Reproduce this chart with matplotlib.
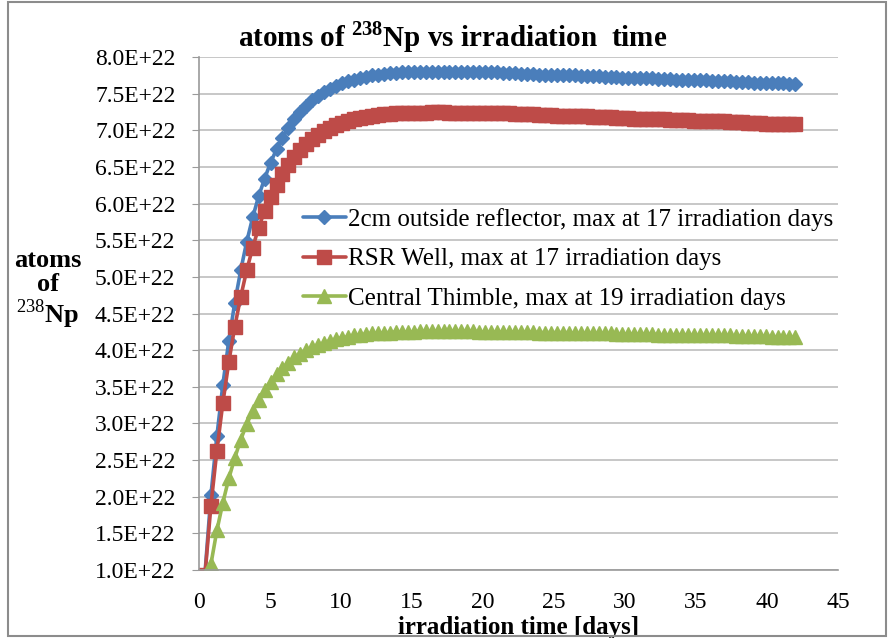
import numpy as np
import matplotlib
matplotlib.use("Agg")
import matplotlib.pyplot as plt
from matplotlib.ticker import FixedLocator, FuncFormatter
from matplotlib.patches import Rectangle

plt.rcParams['font.family'] = ['Liberation Serif', 'DejaVu Serif']
plt.rcParams['mathtext.fontset'] = 'custom'
plt.rcParams['mathtext.rm'] = 'Liberation Serif'
plt.rcParams['mathtext.bf'] = 'Liberation Serif:bold'

# irradiation time step (days) - 100 evenly spaced samples
time_step = 0.42
n_points = 100
days = np.arange(1, n_points + 1) * time_step

# atoms of 238Np, in units of 1E+22
outside_reflector = [
    0.95, 2.02, 2.83, 3.53, 4.13, 4.65, 5.09, 5.48, 5.81, 6.10,
    6.34, 6.56, 6.74, 6.90, 7.03, 7.15, 7.25, 7.33, 7.41, 7.47,
    7.52, 7.57, 7.61, 7.64, 7.67, 7.69, 7.72, 7.73, 7.75, 7.76,
    7.77, 7.78, 7.78, 7.79, 7.79, 7.80, 7.80, 7.80, 7.80, 7.80,
    7.80, 7.80, 7.80, 7.80, 7.80, 7.79, 7.79, 7.79, 7.79, 7.79,
    7.78, 7.78, 7.78, 7.77, 7.77, 7.77, 7.76, 7.76, 7.76, 7.76,
    7.75, 7.75, 7.75, 7.74, 7.74, 7.74, 7.74, 7.73, 7.73, 7.73,
    7.72, 7.72, 7.72, 7.71, 7.71, 7.71, 7.70, 7.70, 7.70, 7.69,
    7.69, 7.69, 7.68, 7.68, 7.68, 7.67, 7.67, 7.67, 7.67, 7.66,
    7.66, 7.66, 7.65, 7.65, 7.65, 7.64, 7.64, 7.64, 7.63, 7.63,
]
rsr_well = [
    0.93, 1.88, 2.63, 3.28, 3.84, 4.32, 4.73, 5.09, 5.40, 5.67,
    5.90, 6.09, 6.26, 6.41, 6.53, 6.64, 6.73, 6.81, 6.88, 6.94,
    6.99, 7.03, 7.07, 7.10, 7.13, 7.15, 7.17, 7.18, 7.20, 7.21,
    7.22, 7.22, 7.23, 7.23, 7.24, 7.24, 7.24, 7.24, 7.25, 7.25,
    7.25, 7.24, 7.24, 7.24, 7.24, 7.24, 7.24, 7.24, 7.23, 7.23,
    7.23, 7.23, 7.22, 7.22, 7.22, 7.22, 7.21, 7.21, 7.21, 7.20,
    7.20, 7.20, 7.19, 7.19, 7.19, 7.18, 7.18, 7.18, 7.18, 7.17,
    7.17, 7.17, 7.16, 7.16, 7.16, 7.15, 7.15, 7.15, 7.14, 7.14,
    7.14, 7.14, 7.13, 7.13, 7.13, 7.12, 7.12, 7.12, 7.11, 7.11,
    7.11, 7.10, 7.10, 7.10, 7.09, 7.09, 7.09, 7.09, 7.08, 7.08,
]
central_thimble = [
    0.59, 1.08, 1.54, 1.92, 2.25, 2.53, 2.78, 2.99, 3.17, 3.32,
    3.46, 3.57, 3.67, 3.76, 3.83, 3.90, 3.95, 4.00, 4.04, 4.07,
    4.10, 4.13, 4.15, 4.17, 4.18, 4.20, 4.21, 4.22, 4.23, 4.23,
    4.24, 4.24, 4.25, 4.25, 4.25, 4.25, 4.26, 4.26, 4.26, 4.26,
    4.26, 4.26, 4.26, 4.26, 4.26, 4.26, 4.25, 4.25, 4.25, 4.25,
    4.25, 4.25, 4.25, 4.25, 4.25, 4.25, 4.24, 4.24, 4.24, 4.24,
    4.24, 4.24, 4.23, 4.23, 4.23, 4.23, 4.23, 4.23, 4.23, 4.22,
    4.22, 4.22, 4.22, 4.22, 4.22, 4.22, 4.21, 4.21, 4.21, 4.21,
    4.21, 4.21, 4.20, 4.20, 4.20, 4.20, 4.20, 4.20, 4.20, 4.19,
    4.19, 4.19, 4.19, 4.19, 4.19, 4.18, 4.18, 4.18, 4.18, 4.18,
]

series_labels = [
    "2cm outside reflector, max at 17 irradiation days",
    "RSR Well, max at 17 irradiation days",
    "Central Thimble, max at 19 irradiation days",
]
x_ticks = [0, 5, 10, 15, 20, 25, 30, 35, 40, 45]
y_ticks = [1.0, 1.5, 2.0, 2.5, 3.0, 3.5, 4.0, 4.5, 5.0, 5.5, 6.0, 6.5, 7.0, 7.5, 8.0]

W, H = 894, 638
fig = plt.figure(figsize=(W / 100, H / 100), dpi=100)
ax = fig.add_axes([199 / W, 1 - 570 / H, (838 - 199) / W, (570 - 57) / H])

colors = ["#4A7EBB", "#BE4B48", "#98B954"]
markers = ["D", "s", "^"]
msizes = [7.5, 9.5, 9.5]
for vals, lab, c, m, ms in zip([outside_reflector, rsr_well, central_thimble],
                                series_labels, colors, markers, msizes):
    ax.plot(days, vals, color=c, lw=2.6, marker=m, ms=ms, mec=c, mfc=c,
            label=lab, solid_capstyle='round')

ax.set_xlim(0, 45)
ax.set_ylim(1.0, 8.0)
ax.xaxis.set_major_locator(FixedLocator(x_ticks))
ax.yaxis.set_major_locator(FixedLocator(y_ticks))
ax.yaxis.set_major_formatter(FuncFormatter(lambda v, p: f"{v:.1f}E+22"))
ax.grid(axis='y', color='#BEBEBE', lw=1.2)
ax.set_axisbelow(True)
for s in ['top', 'right']:
    ax.spines[s].set_visible(False)
for s in ['left', 'bottom']:
    ax.spines[s].set_color('#9A9A9A')
    ax.spines[s].set_linewidth(1.2)
ax.tick_params(axis='y', length=5, color='#9A9A9A', labelsize=17, pad=12)
ax.tick_params(axis='x', length=0, labelsize=17, pad=16)

ax.set_xlabel("irradiation time [days]", fontsize=18, fontweight='bold', labelpad=2)
fig.text(48 / W, 1 - 290 / H, "atoms\nof\n$^{238}$Np", ha='center', va='center',
         fontsize=19, fontweight='bold', linespacing=1.05)
fig.text(453 / W, 1 - 37 / H, r"atoms of $^{\mathbf{238}}$Np vs irradiation  time",
         ha='center', va='center', fontsize=21, fontweight='bold')

leg = ax.legend(loc='upper left', bbox_to_anchor=(303 / W, 1 - 208 / H),
                bbox_transform=fig.transFigure, frameon=False, fontsize=18,
                handlelength=1.7, handletextpad=0.1, labelspacing=0.68,
                borderaxespad=0, borderpad=0)

fig.patches.append(Rectangle((8 / W, 2 / H), (886 - 8) / W, (636 - 2) / H,
                             transform=fig.transFigure, fill=False,
                             ec='#8C8C8C', lw=1.5))

fig.savefig("out.png", dpi=100)
